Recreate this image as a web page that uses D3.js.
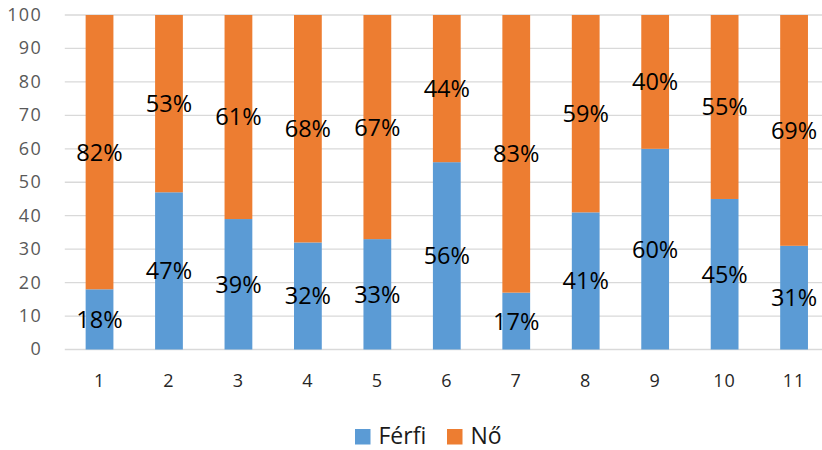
<!DOCTYPE html>
<html><head><meta charset="utf-8">
<script src="https://cdn.jsdelivr.net/npm/d3@7"></script>
<style>body{margin:0;background:#fff;} svg{display:block;}</style>
</head><body>
<svg id="c" width="822" height="450"></svg>
<script>
const categories = ["1","2","3","4","5","6","7","8","9","10","11"];
const ferfi = [18,47,39,32,33,56,17,41,60,45,31];
const no = [82,53,61,68,67,44,83,59,40,55,69];
const seriesNames = ["Férfi","Nő"];
const colors = ["#5B9BD5","#ED7D31"];
const yTicks = [0,10,20,30,40,50,60,70,80,90,100];

const svg = d3.select("#c");
const font = "'Open Sans', sans-serif";
const x = d3.scaleBand().domain(categories).range([64.8, 828.8]).paddingInner(0.6).paddingOuter(0.3);
const y = d3.scaleLinear().domain([0,100]).range([349.5, 15]);

// gridlines
svg.append("g").selectAll("line").data(yTicks).join("line")
  .attr("x1", 64.8).attr("x2", 828.8)
  .attr("y1", d => y(d)).attr("y2", d => y(d))
  .attr("stroke", "#d9d9d9").attr("stroke-width", 1.3);

// y axis labels
const yAxis = d3.axisLeft(y).tickValues(yTicks).tickSize(0).tickPadding(0);
const ya = svg.append("g").attr("transform", "translate(42,0)").call(yAxis);
ya.select(".domain").remove();
ya.selectAll("text").attr("fill", "#595959").attr("dy", "0.3em")
  .style("font-family", font).style("font-size", "18px").style("letter-spacing", "1.3px");

// x axis labels
const xAxis = d3.axisBottom(x).tickSize(0).tickPadding(0);
const xa = svg.append("g").attr("transform", "translate(0,374)").call(xAxis);
xa.select(".domain").remove();
xa.selectAll("text").attr("fill", "#262626").attr("dy", "0.71em")
  .style("font-family", font).style("font-size", "18px").style("letter-spacing", "1px");

const stackData = categories.map((c,i) => ({cat:c, "Férfi":ferfi[i], "Nő":no[i]}));
const stack = d3.stack().keys(seriesNames)(stackData);

const g = svg.append("g");
stack.forEach((s, si) => {
  g.append("g").selectAll("rect").data(s).join("rect")
    .attr("x", d => x(d.data.cat)).attr("width", x.bandwidth())
    .attr("y", d => y(d[1])).attr("height", d => y(d[0]) - y(d[1]))
    .attr("fill", colors[si]);
});
stack.forEach((s, si) => {
  g.append("g").selectAll("text").data(s).join("text")
    .attr("x", d => x(d.data.cat) + x.bandwidth()/2)
    .attr("y", d => y((d[0]+d[1])/2))
    .attr("dy", "0.36em")
    .attr("text-anchor", "middle")
    .style("font-family", font).style("font-size", "23.5px").attr("fill", "#000")
    .text(d => (d[1]-d[0]) + "%");
});

// legend
const leg = svg.append("g");
const legItems = [{n:"Férfi", c:colors[0], x:355}, {n:"Nő", c:colors[1], x:447}];
legItems.forEach(it => {
  leg.append("rect").attr("x", it.x).attr("y", 429).attr("width", 15.5).attr("height", 15.5).attr("fill", it.c);
  leg.append("text").attr("x", it.x + 23.5).attr("y", 444)
    .style("font-family", font).style("font-size", "23px").attr("fill", "#1a1a1a").text(it.n);
});
</script>
</body></html>
